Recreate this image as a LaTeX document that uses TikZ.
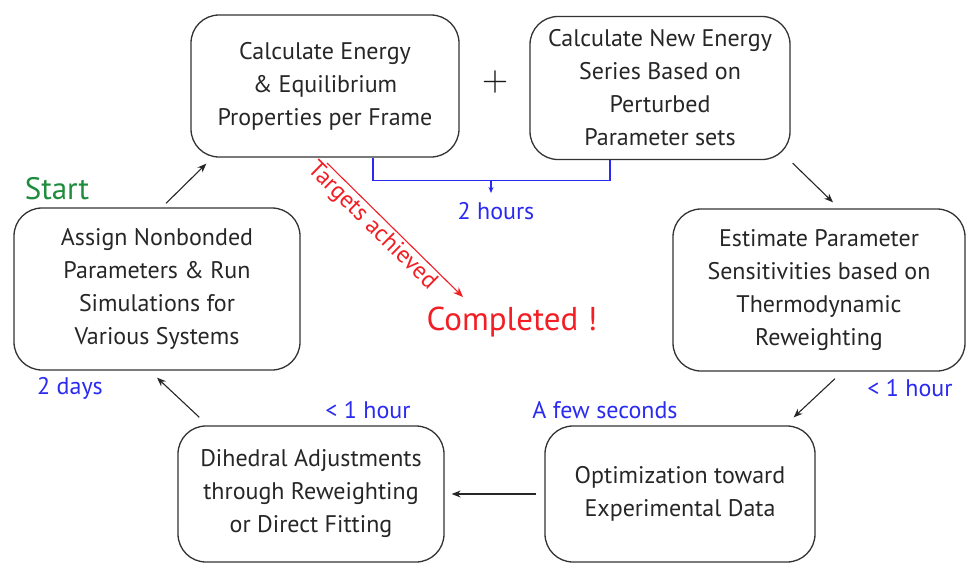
\documentclass[tikz,border=0pt]{standalone}
\usepackage{fontspec}
\setmainfont{PT Sans}
\usetikzlibrary{arrows.meta,calc}
\definecolor{boxline}{HTML}{333333}
\definecolor{tblue}{HTML}{2A2AF0}
\definecolor{tred}{HTML}{F21E24}
\definecolor{tgreen}{HTML}{1E8C3C}
\tikzset{
  box/.style={draw=boxline, line width=1.3pt, rounded corners=28pt, align=center,
    font=\fontsize{24}{33}\selectfont, text=black!85, inner sep=0pt},
  conn/.style={draw=black!85, line width=1.1pt, -{Stealth[length=9pt,width=7pt]}},
  bluelab/.style={text=tblue, font=\fontsize{24}{26}\selectfont, inner sep=1pt},
  blueline/.style={draw=tblue, line width=1.1pt},
}
\begin{document}
\begin{tikzpicture}[x=1pt,y=-1pt]
\useasboundingbox (0,0) rectangle (969,565);
% boxes
\node[box, minimum width=268pt, minimum height=142pt] (A) at (325,86)
  {Calculate Energy\\ \& Equilibrium\\ Properties per Frame};
\node[box, minimum width=260pt, minimum height=143pt] (B) at (660,88)
  {Calculate New Energy\\ Series Based on\\ Perturbed\\ Parameter sets};
\node[box, minimum width=286pt, minimum height=162pt] (C) at (157,289)
  {Assign Nonbonded\\ Parameters \& Run\\ Simulations for\\ Various Systems};
\node[box, minimum width=292pt, minimum height=162pt] (F) at (819,290)
  {Estimate Parameter\\ Sensitivities based on\\ Thermodynamic\\ Reweighting};
\node[box, minimum width=266pt, minimum height=136pt] (D) at (311,494)
  {Dihedral Adjustments\\ through Reweighting\\ or Direct Fitting};
\node[box, minimum width=270pt, minimum height=136pt] (E) at (680,494)
  {Optimization toward\\ Experimental Data};
% plus sign
\node[scale=3.4, text=black!90, inner sep=0pt] (plus) at (495,82) {$+$};
% labels
\node[text=tgreen, font=\fontsize{31}{33}\selectfont] (start) at (57,189) {Start};
\node[bluelab] (l2days) at (70,388) {2 days};
\node[bluelab] (l1hA) at (368,410) {< 1 hour};
\node[bluelab] (lfew) at (605,410) {A few seconds};
\node[bluelab] (l1hB) at (910,388) {< 1 hour};
\node[bluelab] (l2h) at (496,211) {2 hours};
\node[text=tred, font=\fontsize{33}{35}\selectfont] (done) at (512,322) {Completed !};
% cycle arrows
\draw[conn] ([xshift=9pt,yshift=4pt]C.north) -- ([xshift=16pt,yshift=-6pt]A.south west);
\draw[conn] ([xshift=2pt,yshift=-3pt]B.south east) -- ([xshift=14pt,yshift=6pt]F.north);
\draw[conn] ([xshift=16pt,yshift=-7pt]F.south) -- ([xshift=-22pt,yshift=8pt]E.north east);
\draw[conn] ([xshift=-8pt]E.west) -- ([xshift=7pt]D.east);
\draw[conn] ([xshift=22pt,yshift=8pt]D.north west) -- ([yshift=-7pt]C.south);
% blue bracket
\draw[blueline] ([xshift=48pt]A.south) -- ++(0,23) coordinate (bl) -| ([xshift=-50pt]B.south);
\coordinate (bm) at (491,180);
\draw[blueline, -{Stealth[length=6pt,width=5pt]}] (bm) -- ++(0,13);
% targets achieved
\coordinate (t0) at (327,163);
\coordinate (t1) at (463,297);
\draw[draw=tred, line width=1.1pt, -{Stealth[length=10pt,width=8pt]}] (t0) -- node[sloped, below, text=tred, font=\fontsize{24}{26}\selectfont, inner sep=2pt, pos=0.4] {Targets achieved} (t1);
\end{tikzpicture}
\end{document}
